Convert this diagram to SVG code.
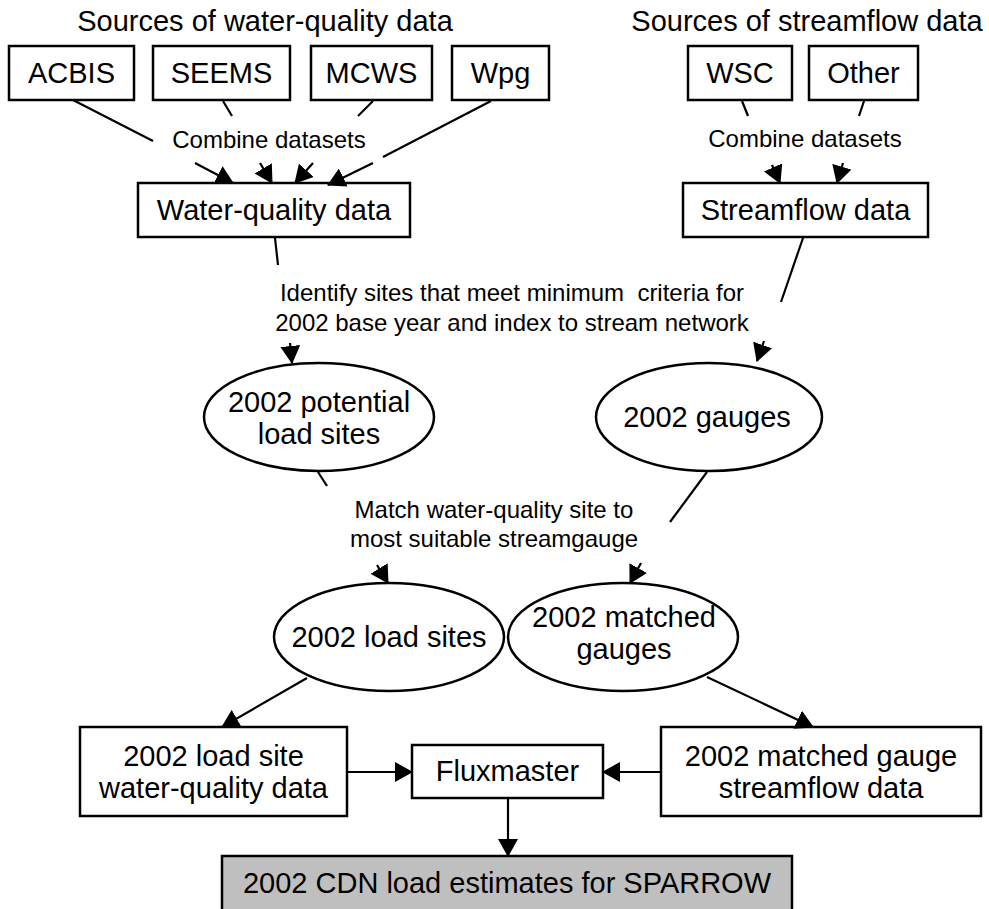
<svg xmlns="http://www.w3.org/2000/svg" width="989" height="909" viewBox="0 0 989 909">
<style>
text{font-family:"Liberation Sans",Arial,sans-serif;fill:#000;text-anchor:middle;white-space:pre}
.t{font-size:29px}
.l{font-size:24px}
.box{fill:#fff;stroke:#000;stroke-width:2.5}
.ell{fill:#fff;stroke:#000;stroke-width:2.5}
.c line{stroke:#000;stroke-width:2.2}
</style>
<defs>
<marker id="ah" markerUnits="userSpaceOnUse" viewBox="0 0 18 20" refX="17" refY="10" markerWidth="18" markerHeight="20" orient="auto">
<path d="M0,0 L18,10 L0,20 z" fill="#000"/>
</marker>
</defs>
<rect width="989" height="909" fill="#fff"/>

<text class="t" x="265" y="31">Sources of water-quality data</text>
<text class="t" x="807" y="31">Sources of streamflow data</text>
<text class="l" x="269" y="148">Combine datasets</text>
<text class="l" x="805" y="147">Combine datasets</text>
<text class="l" x="512" y="301" xml:space="preserve">Identify sites that meet minimum  criteria for</text>
<text class="l" x="512" y="331">2002 base year and index to stream network</text>
<text class="l" x="494" y="518">Match water-quality site to</text>
<text class="l" x="494" y="547">most suitable streamgauge</text>

<g id="acbis"><rect class="box" x="9" y="46" width="125" height="54"/><text class="t" x="71.5" y="83">ACBIS</text></g>
<g id="seems"><rect class="box" x="153" y="46" width="137" height="54"/><text class="t" x="221.5" y="83">SEEMS</text></g>
<g id="mcws"><rect class="box" x="311" y="46" width="121" height="54"/><text class="t" x="371.5" y="83">MCWS</text></g>
<g id="wpg"><rect class="box" x="452" y="46" width="97" height="54"/><text class="t" x="500.5" y="83">Wpg</text></g>
<g id="wsc"><rect class="box" x="688" y="46" width="104" height="54"/><text class="t" x="740" y="83">WSC</text></g>
<g id="other"><rect class="box" x="809" y="46" width="109" height="54"/><text class="t" x="863.5" y="83">Other</text></g>

<g id="wqdata"><rect class="box" x="138" y="183" width="272" height="54"/><text class="t" x="274" y="220">Water-quality data</text></g>
<g id="sfdata"><rect class="box" x="683" y="183" width="245" height="54"/><text class="t" x="805.5" y="220">Streamflow data</text></g>

<g id="potential"><ellipse class="ell" cx="319" cy="417" rx="115" ry="54"/><text class="t" x="319" y="412">2002 potential</text><text class="t" x="319" y="444">load sites</text></g>
<g id="gauges"><ellipse class="ell" cx="709" cy="417" rx="113" ry="54"/><text class="t" x="707" y="427">2002 gauges</text></g>

<g id="loadsites"><ellipse class="ell" cx="389" cy="637" rx="115" ry="54"/><text class="t" x="389" y="647">2002 load sites</text></g>
<g id="matched"><ellipse class="ell" cx="623" cy="637" rx="115" ry="54"/><text class="t" x="624" y="627">2002 matched</text><text class="t" x="624" y="659">gauges</text></g>

<g id="lsdata"><rect class="box" x="80" y="727" width="267" height="89"/><text class="t" x="213.5" y="766">2002 load site</text><text class="t" x="213.5" y="798">water-quality data</text></g>
<g id="flux"><rect class="box" x="412" y="745" width="191" height="53"/><text class="t" x="507.5" y="781">Fluxmaster</text></g>
<g id="mgdata"><rect class="box" x="661" y="727" width="320" height="89"/><text class="t" x="821" y="766">2002 matched gauge</text><text class="t" x="821" y="798">streamflow data</text></g>
<g id="estimates"><rect x="222" y="856" width="570" height="60" fill="#bfbfbf" stroke="#000" stroke-width="2.5"/><text class="t" x="507" y="893">2002 CDN load estimates for SPARROW</text></g>

<g class="c" id="connectors">
<line x1="73" y1="100" x2="153" y2="141"/>
<line x1="195" y1="163" x2="233" y2="183" marker-end="url(#ah)"/>
<line x1="223" y1="101" x2="232" y2="116"/>
<line x1="260" y1="163" x2="272" y2="183" marker-end="url(#ah)"/>
<line x1="373" y1="101" x2="358" y2="116"/>
<line x1="313" y1="163" x2="295" y2="183" marker-end="url(#ah)"/>
<line x1="491" y1="101" x2="383" y2="157"/>
<line x1="373" y1="163" x2="328" y2="185" marker-end="url(#ah)"/>
<line x1="742" y1="101" x2="748" y2="116"/>
<line x1="772" y1="165" x2="780" y2="183" marker-end="url(#ah)"/>
<line x1="864" y1="101" x2="859" y2="116"/>
<line x1="843" y1="163" x2="837" y2="183" marker-end="url(#ah)"/>
<line x1="275" y1="238" x2="278" y2="265"/>
<line x1="290" y1="343" x2="292" y2="363" marker-end="url(#ah)"/>
<line x1="803" y1="238" x2="781" y2="302"/>
<line x1="764" y1="341" x2="757" y2="361" marker-end="url(#ah)"/>
<line x1="318" y1="472" x2="327" y2="486"/>
<line x1="377" y1="565" x2="388" y2="583" marker-end="url(#ah)"/>
<line x1="707" y1="472" x2="670" y2="522"/>
<line x1="641" y1="563" x2="630" y2="583" marker-end="url(#ah)"/>
<line x1="307" y1="678" x2="222" y2="727" marker-end="url(#ah)"/>
<line x1="707" y1="677" x2="813" y2="727" marker-end="url(#ah)"/>
<line x1="347" y1="772" x2="412" y2="772" marker-end="url(#ah)"/>
<line x1="661" y1="772" x2="603" y2="772" marker-end="url(#ah)"/>
<line x1="508" y1="798" x2="508" y2="856" marker-end="url(#ah)"/>
</g>
</svg>
